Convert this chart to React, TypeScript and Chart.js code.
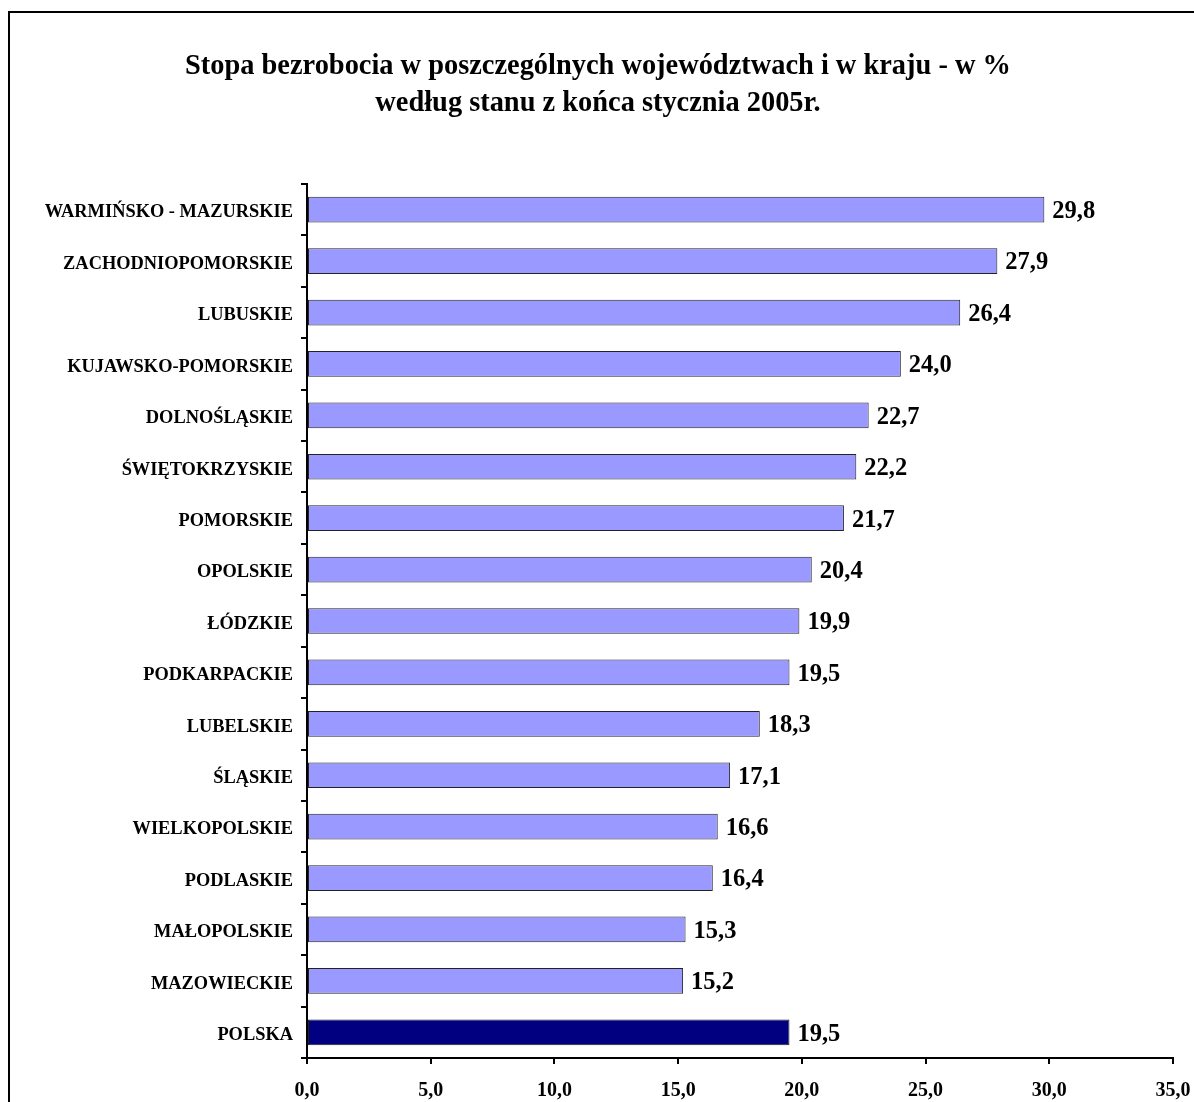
import React, { useEffect, useRef } from "react";
import { Chart, registerables } from "chart.js";

Chart.register(...registerables);

const categories = [
  "WARMIŃSKO - MAZURSKIE",
  "ZACHODNIOPOMORSKIE",
  "LUBUSKIE",
  "KUJAWSKO-POMORSKIE",
  "DOLNOŚLĄSKIE",
  "ŚWIĘTOKRZYSKIE",
  "POMORSKIE",
  "OPOLSKIE",
  "ŁÓDZKIE",
  "PODKARPACKIE",
  "LUBELSKIE",
  "ŚLĄSKIE",
  "WIELKOPOLSKIE",
  "PODLASKIE",
  "MAŁOPOLSKIE",
  "MAZOWIECKIE",
  "POLSKA",
];

const values = [29.8, 27.9, 26.4, 24.0, 22.7, 22.2, 21.7, 20.4, 19.9, 19.5, 18.3, 17.1, 16.6, 16.4, 15.3, 15.2, 19.5];

const titleLines = [
  "Stopa bezrobocia w poszczególnych województwach i w kraju - w %",
  "według stanu z końca stycznia 2005r.",
];

const FONT = "'Liberation Serif', 'Times New Roman', serif";

const valueLabels = {
  id: "valueLabels",
  afterDatasetsDraw(chart: any) {
    const ctx = chart.ctx;
    const meta = chart.getDatasetMeta(0);
    ctx.save();
    ctx.font = `bold 24.5px ${FONT}`;
    ctx.fillStyle = "#000";
    ctx.textAlign = "left";
    ctx.textBaseline = "middle";
    meta.data.forEach((bar: any, i: number) => {
      ctx.fillText(values[i].toFixed(1).replace(".", ","), bar.x + 8, bar.y + 2);
    });
    ctx.restore();
  },
};

export default function App() {
  const ref = useRef<HTMLCanvasElement>(null);
  useEffect(() => {
    document.body.style.margin = "0";
    const chart = new Chart(ref.current!, {
      type: "bar",
      data: {
        labels: categories,
        datasets: [
          {
            data: values,
            backgroundColor: categories.map((c) => (c === "POLSKA" ? "#000080" : "#9999FF")),
            borderColor: "#222",
            borderWidth: 1,
            borderSkipped: false,
            categoryPercentage: 1,
            barPercentage: 0.5,
          },
        ],
      },
      options: {
        indexAxis: "y",
        animation: false,
        responsive: false,
        maintainAspectRatio: false,
        layout: { padding: { top: 184, left: 0, right: 21, bottom: 0 } },
        plugins: {
          legend: { display: false },
          tooltip: { enabled: false },
          title: { display: false },
        },
        scales: {
          x: {
            min: 0,
            max: 35,
            ticks: {
              stepSize: 5,
              color: "#000",
              font: { family: FONT, size: 20, weight: "bold" },
              padding: 15,
              maxRotation: 0,
              callback: (v: any) => Number(v).toFixed(1).replace(".", ","),
            },
            grid: { drawOnChartArea: false, drawTicks: true, tickLength: 6, color: "#000", lineWidth: 2 },
            border: { display: true, color: "#000", width: 2 },
            afterFit: (s: any) => {
              s.height = 44;
              s.paddingRight = 0;
              s.paddingLeft = 0;
            },
          },
          y: {
            ticks: {
              color: "#000",
              font: { family: FONT, size: 18.4, weight: "bold" },
              padding: 8,
              labelOffset: 3,
              autoSkip: false,
            },
            grid: { drawOnChartArea: false, drawTicks: true, tickLength: 6, color: "#000", lineWidth: 2, offset: true },
            border: { display: true, color: "#000", width: 2 },
            afterFit: (s: any) => {
              s.width = 307;
              s.paddingTop = 0;
              s.paddingBottom = 0;
            },
          },
        },
      },
      plugins: [valueLabels],
    });
    return () => chart.destroy();
  }, []);

  return (
    <div style={{ position: "relative", width: 1194, height: 1102, overflow: "hidden", background: "#fff" }}>
      <div
        style={{
          position: "absolute",
          left: 8,
          top: 11,
          width: 1300,
          height: 1300,
          border: "2px solid #000",
          boxSizing: "border-box",
        }}
      />
      <canvas ref={ref} width={1194} height={1102} style={{ position: "absolute", left: 0, top: 0, display: "block" }} />
      <div
        style={{
          position: "absolute",
          left: 0,
          top: 46,
          width: 1196,
          textAlign: "center",
          fontFamily: FONT,
          fontWeight: "bold",
          fontSize: 28.4,
          lineHeight: "37px",
          color: "#000",
        }}
      >
        {titleLines.map((t, i) => (
          <div key={i}>{t}</div>
        ))}
      </div>
    </div>
  );
}
